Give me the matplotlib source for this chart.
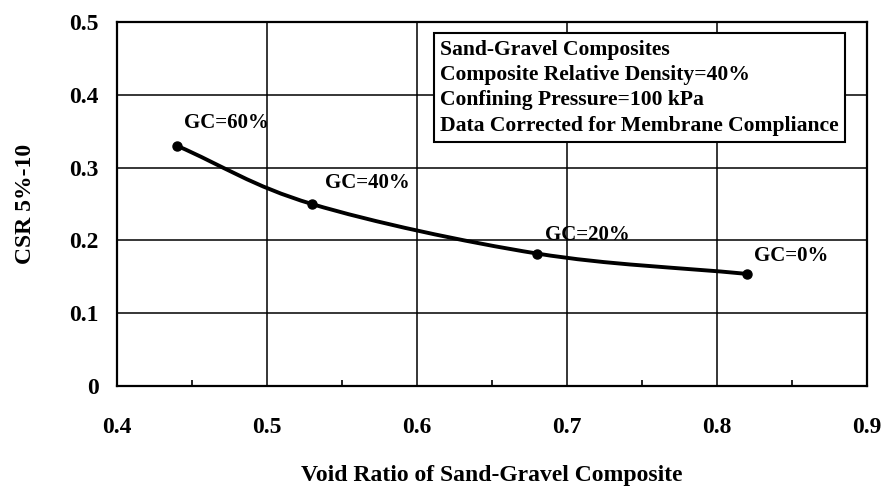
import matplotlib
matplotlib.use("Agg")
import matplotlib.pyplot as plt
from matplotlib.path import Path
from matplotlib.patches import PathPatch
from matplotlib.ticker import MultipleLocator
import numpy as np

plt.rcParams['font.family'] = ['Liberation Serif', 'DejaVu Serif']
plt.rcParams['font.weight'] = 'bold'
plt.rcParams['axes.labelweight'] = 'bold'

# void ratio vs cyclic stress ratio for each gravel content
void_ratio = [0.44, 0.53, 0.68, 0.82]
csr = [0.33, 0.25, 0.182, 0.154]
gc_labels = ['GC=60%', 'GC=40%', 'GC=20%', 'GC=0%']
label_offsets = [(5, 13), (9, 11.5), (6, 10), (5, 9)]

box_lines = ['Sand-Gravel Composites',
             'Composite Relative Density=40%',
             'Confining Pressure=100 kPa',
             'Data Corrected for Membrane Compliance']

fig = plt.figure(figsize=(8.88, 4.92), dpi=100)
ax = fig.add_axes([0.1318, 0.2154, 0.8446, 0.7398])

ax.set_xlim(0.4, 0.9)
ax.set_ylim(0, 0.5)
ax.xaxis.set_major_locator(MultipleLocator(0.1))
ax.xaxis.set_minor_locator(MultipleLocator(0.05))
ax.yaxis.set_major_locator(MultipleLocator(0.1))
ax.xaxis.set_major_formatter(plt.FuncFormatter(lambda v, p: f'{v:.1f}'))
ax.yaxis.set_major_formatter(plt.FuncFormatter(lambda v, p: '0' if abs(v) < 1e-9 else f'{v:.1f}'))
ax.tick_params(axis='both', which='major', length=0, labelsize=17)
ax.tick_params(axis='x', which='major', pad=22)
ax.tick_params(axis='y', which='major', pad=13)
ax.tick_params(axis='x', which='minor', direction='in', length=4, width=1.2, top=False)
ax.grid(True, which='major', color='black', linewidth=1.1)
for s in ax.spines.values():
    s.set_linewidth(1.6)

# smooth curve through the points (Catmull-Rom as cubic Bezier)
pts = np.column_stack([void_ratio, csr])
ext = np.vstack([2 * pts[0] - pts[1], pts, 2 * pts[-1] - pts[-2]])
verts = [tuple(pts[0])]
codes = [Path.MOVETO]
for i in range(1, len(ext) - 2):
    p0, p1, p2, p3 = ext[i - 1], ext[i], ext[i + 1], ext[i + 2]
    verts += [tuple(p1 + (p2 - p0) / 6), tuple(p2 - (p3 - p1) / 6), tuple(p2)]
    codes += [Path.CURVE4] * 3
ax.add_patch(PathPatch(Path(verts, codes), facecolor='none', edgecolor='black',
                       linewidth=2.8, zorder=3))
ax.plot(void_ratio, csr, 'o', color='black', markersize=6.5, zorder=4)

for x, y, lab, off in zip(void_ratio, csr, gc_labels, label_offsets):
    ax.annotate(lab, (x, y), xytext=off, textcoords='offset points',
                fontsize=15, ha='left', va='baseline')

ax.text(0.431, 0.952, '\n'.join(box_lines), transform=ax.transAxes,
        fontsize=15.6, ha='left', va='top', linespacing=1.36,
        bbox=dict(boxstyle='square,pad=0.3', facecolor='white',
                  edgecolor='black', linewidth=1.5), zorder=5)

ax.set_xlabel('Void Ratio of Sand-Gravel Composite', fontsize=17, labelpad=20)
ax.set_ylabel('CSR 5%-10', fontsize=17, labelpad=24)

fig.savefig('out.png', dpi=100)
